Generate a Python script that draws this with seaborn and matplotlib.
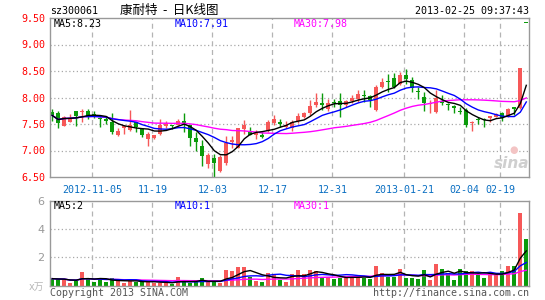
import numpy as np
import pandas as pd
import matplotlib
matplotlib.use("Agg")
import matplotlib.pyplot as plt
import seaborn as sns

# ---------------- data ----------------
opens = [7.72, 7.70, 7.47, 7.54, 7.74, 7.72, 7.74, 7.69, 7.62, 7.60,
         7.53, 7.30, 7.42, 7.38, 7.53, 7.40, 7.21, 7.23, 7.32, 7.47,
         7.48, 7.49, 7.55, 7.48, 7.24, 7.08, 6.75, 6.86, 6.61, 6.76,
         7.16, 7.05, 7.40, 7.35, 7.30, 7.30, 7.36, 7.51, 7.53, 7.45,
         7.42, 7.56, 7.63, 7.70, 7.86, 7.89, 7.78, 7.92, 7.94, 7.85,
         7.94, 7.97, 8.04, 8.02, 7.76, 8.20, 8.31, 8.36, 8.25, 8.42,
         8.33, 8.12, 8.00, 7.88, 7.72, 7.94, 7.87, 7.84, 7.74, 7.76,
         7.51, 7.59, 7.59, 7.61, 7.64, 7.71, 7.64, 7.81, 7.80, 9.41]
highs = [7.79, 7.74, 7.66, 7.69, 7.75, 7.78, 7.78, 7.74, 7.64, 7.64,
         7.70, 7.42, 7.49, 7.76, 7.54, 7.42, 7.35, 7.30, 7.60, 7.55,
         7.49, 7.60, 7.70, 7.49, 7.35, 7.19, 6.96, 6.94, 6.91, 7.28,
         7.28, 7.43, 7.57, 7.45, 7.38, 7.35, 7.57, 7.67, 7.60, 7.55,
         7.58, 7.70, 7.73, 7.95, 8.08, 8.08, 7.98, 7.98, 8.09, 7.96,
         8.05, 8.14, 8.14, 8.04, 8.24, 8.36, 8.44, 8.46, 8.49, 8.53,
         8.38, 8.19, 8.11, 7.95, 8.14, 8.05, 7.89, 7.85, 7.83, 7.80,
         7.55, 7.64, 7.61, 7.65, 7.71, 7.73, 7.81, 7.83, 8.56, 9.41]
lows = [7.55, 7.42, 7.46, 7.53, 7.46, 7.54, 7.60, 7.62, 7.45, 7.50,
        7.32, 7.28, 7.32, 7.37, 7.35, 7.26, 7.09, 7.21, 7.30, 7.42,
        7.40, 7.48, 7.35, 7.09, 7.00, 6.70, 6.67, 6.50, 6.60, 6.72,
        7.04, 7.04, 7.32, 7.29, 7.21, 7.23, 7.35, 7.49, 7.45, 7.43,
        7.36, 7.51, 7.61, 7.67, 7.83, 7.76, 7.75, 7.83, 7.63, 7.83,
        7.89, 7.92, 7.92, 7.83, 7.75, 8.17, 8.11, 8.17, 8.24, 8.25,
        8.10, 7.98, 7.75, 7.70, 7.70, 7.86, 7.76, 7.70, 7.69, 7.45,
        7.37, 7.50, 7.45, 7.54, 7.63, 7.56, 7.63, 7.67, 7.78, 9.41]
closes = [7.66, 7.51, 7.64, 7.62, 7.65, 7.75, 7.65, 7.66, 7.59, 7.56,
          7.35, 7.36, 7.47, 7.49, 7.45, 7.29, 7.32, 7.29, 7.48, 7.51,
          7.46, 7.55, 7.49, 7.24, 7.16, 6.89, 6.92, 6.77, 6.87, 7.14,
          7.19, 7.42, 7.48, 7.30, 7.32, 7.26, 7.53, 7.59, 7.50, 7.49,
          7.54, 7.65, 7.71, 7.84, 7.92, 7.86, 7.89, 7.90, 7.86, 7.94,
          8.00, 8.06, 8.02, 7.95, 8.20, 8.30, 8.29, 8.20, 8.42, 8.34,
          8.18, 8.10, 7.90, 7.90, 8.00, 7.89, 7.85, 7.80, 7.72, 7.48,
          7.54, 7.57, 7.57, 7.65, 7.68, 7.61, 7.79, 7.79, 8.55, 9.41]
volumes = [0.50, 0.45, 0.45, 0.21, 0.35, 0.99, 0.52, 0.28, 0.40, 0.28,
           0.52, 0.35, 0.21, 0.35, 0.28, 0.28, 0.28, 0.21, 0.21, 0.21,
           0.12, 0.64, 0.28, 0.21, 0.28, 0.52, 0.28, 0.28, 0.21, 1.10,
           1.04, 1.32, 1.32, 0.59, 0.35, 0.28, 0.90, 0.83, 0.43, 0.29,
           0.83, 1.12, 0.83, 1.12, 1.05, 0.58, 0.62, 0.47, 0.58, 0.64,
           0.64, 0.64, 0.57, 0.47, 1.40, 0.93, 0.60, 0.62, 1.18, 0.57,
           0.57, 0.45, 1.12, 0.40, 1.55, 1.17, 0.90, 0.40, 1.17, 1.02,
           1.07, 0.76, 0.57, 0.93, 0.76, 1.07, 1.40, 1.40, 5.12, 3.33]
tick_index = [7, 17, 27, 37, 47, 59, 69, 75]
tick_labels = ["2012-11-05", "11-19", "12-03", "12-17", "12-31",
               "2013-01-21", "02-04", "02-19"]
price_ticks = [6.5, 7.0, 7.5, 8.0, 8.5, 9.0, 9.5]
volume_ticks = [2, 4, 6]

# ---------------- derived ----------------
df = pd.DataFrame({"o": opens, "h": highs, "l": lows, "c": closes, "v": volumes})
df["i"] = np.arange(len(df))
for n in (5, 10, 30):
    df[f"ma{n}"] = df["c"].rolling(n, min_periods=1).mean()
    df[f"vma{n}"] = df["v"].rolling(n, min_periods=1).mean()

RED = "#f65858"
GREEN = "#0b9b0b"
cols = [RED if c > o else GREEN for o, c in zip(df.o, df.c)]

W, H = 545, 300
fig = plt.figure(figsize=(W / 100, H / 100), dpi=100)
fig.patch.set_facecolor("white")


def fx(px):
    return px / W


def fy(py):
    return 1 - py / H


L, R = 50, 529
ax = fig.add_axes([fx(L), fy(177), (R - L) / W, (177 - 18) / H])
axv = fig.add_axes([fx(L), fy(285.7), (R - L) / W, (285.7 - 201) / H])

xlim = (-0.38, 79.45)
mono = "DejaVu Sans Mono"
FS = 7.2

# ---------- price panel ----------
for y in [7.0, 7.5, 8.0, 8.5, 9.0]:
    ax.axhline(y, color="#a8a8a8", lw=0.9, ls=(0, (1, 2)), zorder=0)
for p in tick_index:
    ax.axvline(p - 0.3, color="#b4b4b4", lw=0.9, ls=(0, (4, 3)), zorder=0)

ax.vlines(df.i, df.l, df.h, colors=cols, lw=1, zorder=1)
body_bottom = np.minimum(df.o, df.c)
body_h = np.maximum(np.abs(df.c - df.o), 0.022)
ax.bar(df.i, body_h, bottom=body_bottom, width=0.72, color=cols, lw=0, zorder=2)

sns.lineplot(data=df, x="i", y="ma30", ax=ax, color="#ff00ff", lw=1, zorder=3)
sns.lineplot(data=df, x="i", y="ma10", ax=ax, color="#0000ff", lw=1, zorder=3)
sns.lineplot(data=df, x="i", y="ma5", ax=ax, color="black", lw=1, zorder=3)

ax.set_xlim(*xlim)
ax.set_ylim(6.5, 9.5)
ax.set_xlabel("")
ax.set_ylabel("")
ax.set_xticks([])
ax.set_yticks(price_ticks)
ax.set_yticklabels([f"{t:.2f}" for t in price_ticks], color="#ff0000",
                   fontfamily=mono, fontsize=FS)
ax.tick_params(axis="y", length=0, pad=3)
for s in ax.spines.values():
    s.set_color("#999999")
    s.set_linewidth(1)
ax.set_facecolor("white")

for p, lab in zip(tick_index, tick_labels):
    ax.text(p - 0.3, -0.082, lab, transform=ax.get_xaxis_transform(),
            ha="center", va="center", color="#0a6fc2", fontfamily=mono,
            fontsize=FS)

# ---------- volume panel ----------
for y in [2, 4]:
    axv.axhline(y, color="#a8a8a8", lw=0.9, ls=(0, (1, 2)), zorder=0)
for p in tick_index:
    axv.axvline(p - 0.3, color="#b4b4b4", lw=0.9, ls=(0, (4, 3)), zorder=0)

axv.bar(df.i, df.v, width=0.7, color=cols, lw=0, zorder=1)
sns.lineplot(data=df, x="i", y="vma30", ax=axv, color="#ff00ff", lw=1, zorder=3)
sns.lineplot(data=df, x="i", y="vma10", ax=axv, color="#0000ff", lw=1, zorder=3)
sns.lineplot(data=df, x="i", y="vma5", ax=axv, color="black", lw=1, zorder=3)

axv.set_xlim(*xlim)
axv.set_ylim(0, 6)
axv.set_xlabel("")
axv.set_ylabel("")
axv.set_xticks([])
axv.set_yticks(volume_ticks)
axv.set_yticklabels([str(t) for t in volume_ticks], color="#999999",
                    fontsize=8)
axv.tick_params(axis="y", length=0, pad=4)
for s in axv.spines.values():
    s.set_color("#999999")
    s.set_linewidth(1)

# ---------- texts ----------
fig.text(fx(50), fy(11), "sz300061", fontfamily=mono, fontsize=FS,
         va="center", ha="left", color="black")
fig.text(fx(120), fy(10.5), "康耐特  -  日K线图",
         fontfamily=["Noto Sans CJK SC", "DejaVu Sans"], fontsize=9,
         va="center", ha="left", color="black")
fig.text(fx(529), fy(11), "2013-02-25 09:37:43", fontfamily=mono,
         fontsize=FS, va="center", ha="right", color="black")

fig.text(fx(54), fy(24), "MA5:8.23", fontfamily=mono, fontsize=FS,
         va="center", color="black")
fig.text(fx(175), fy(24), "MA10:7.91", fontfamily=mono, fontsize=FS,
         va="center", color="#0000ff")
fig.text(fx(294), fy(24), "MA30:7.98", fontfamily=mono, fontsize=FS,
         va="center", color="#ff00ff")

fig.text(fx(54), fy(206), "MA5:2", fontfamily=mono, fontsize=FS,
         va="center", color="black")
fig.text(fx(175), fy(206), "MA10:1", fontfamily=mono, fontsize=FS,
         va="center", color="#0000ff")
fig.text(fx(294), fy(206), "MA30:1", fontfamily=mono, fontsize=FS,
         va="center", color="#ff00ff")

fig.text(fx(44), fy(287), "x万", fontfamily=["DejaVu Sans", "Noto Sans CJK SC"],
         fontsize=7, va="center", ha="right", color="#b8b8b8")

fig.text(fx(50), fy(293), "Copyright 2013 SINA.COM", fontfamily=mono,
         fontsize=FS, va="center", ha="left", color="#555555")
fig.text(fx(529), fy(293), "http://finance.sina.com.cn", fontfamily=mono,
         fontsize=FS, va="center", ha="right", color="#555555")

fig.text(fx(512), fy(163), "sina", fontfamily="DejaVu Sans", fontsize=11,
         fontweight="bold", fontstyle="italic", va="center", ha="center",
         color="#cfcfcf")
fig.text(fx(514), fy(150), "●", fontfamily="DejaVu Sans", fontsize=7,
         va="center", ha="center", color="#f3c4c4")

fig.savefig("out.png", dpi=100, facecolor="white")
